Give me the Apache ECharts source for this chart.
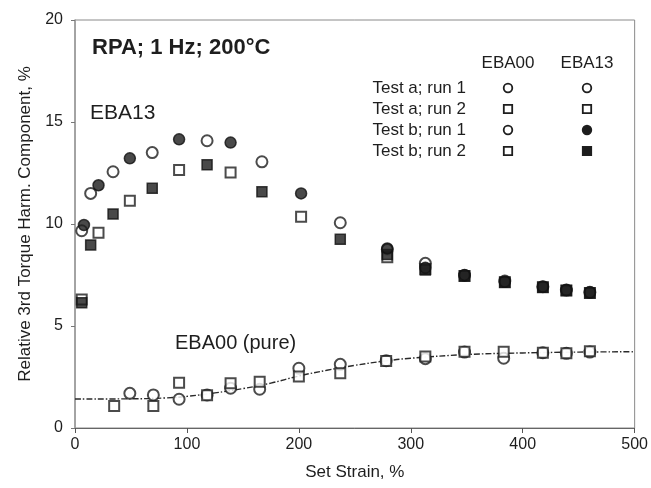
<!DOCTYPE html>
<html><head><meta charset="utf-8">
<script src="https://cdn.jsdelivr.net/npm/echarts@6/dist/echarts.min.js"></script>
<style>html,body{margin:0;padding:0;background:#fff}#c{width:651px;height:488px}</style>
</head><body><div id="c"></div>
<script>
// ---------- data ----------
const xTicks = [0, 100, 200, 300, 400, 500];
const yTicks = [0, 5, 10, 15, 20];
const legendRows = ['Test a; run 1', 'Test a; run 2', 'Test b; run 1', 'Test b; run 2'];
const legendCols = ['EBA00', 'EBA13'];

// EBA13
const eba13_a1_x = [6, 14, 34, 69, 118, 167, 237, 279, 313, 348, 384, 418, 439, 460];
const eba13_a1_y = [9.67, 11.5, 12.56, 13.5, 14.08, 13.05, 10.06, 8.75, 8.07, 7.48, 7.2, 6.93, 6.76, 6.65];
const eba13_a2_x = [6, 21, 49, 93, 139, 202, 279, 313, 348, 384, 418, 439, 460];
const eba13_a2_y = [6.3, 9.57, 11.14, 12.65, 12.52, 10.36, 8.37, 7.8, 7.45, 7.15, 6.9, 6.74, 6.62];
const eba13_b1_x = [8, 21, 49, 93, 139, 202, 279, 313, 348, 384, 418, 439, 460];
const eba13_b1_y = [9.95, 11.9, 13.22, 14.15, 13.99, 11.5, 8.8, 7.85, 7.5, 7.17, 6.93, 6.76, 6.65];
const eba13_b2_x = [6, 14, 34, 69, 118, 167, 237, 279, 313, 348, 384, 418, 439, 460];
const eba13_b2_y = [6.14, 8.97, 10.49, 11.75, 12.9, 11.58, 9.25, 8.5, 7.75, 7.45, 7.15, 6.9, 6.74, 6.62];

// EBA00
const eba00_circ_x = [49, 70, 93, 118, 139, 165, 200, 237, 278, 313, 348, 383, 418, 439, 460];
const eba00_circ_y = [1.7, 1.62, 1.41, 1.62, 1.95, 1.9, 2.93, 3.12, 3.3, 3.4, 3.72, 3.42, 3.69, 3.66, 3.72];
const eba00_sq_x = [35, 70, 93, 118, 139, 165, 200, 237, 278, 313, 348, 383, 418, 439, 460];
const eba00_sq_y = [1.08, 1.08, 2.22, 1.6, 2.19, 2.27, 2.52, 2.68, 3.28, 3.5, 3.74, 3.74, 3.69, 3.66, 3.76];

// fitted curve for EBA00
const fit_x = [0, 50, 80, 100, 125, 150, 175, 200, 225, 250, 275, 300, 350, 400, 450, 500];
const fit_y = [1.42, 1.43, 1.47, 1.55, 1.72, 1.93, 2.2, 2.55, 2.83, 3.07, 3.27, 3.42, 3.6, 3.68, 3.72, 3.74];

const zip = (xs, ys) => xs.map((x, i) => [x, ys[i]]);

// ---------- chart ----------
const FONT = '"Liberation Sans", Arial, sans-serif';
const INK = '#1e1e1e';
const chart = echarts.init(document.getElementById('c'));

const openStyle = {color: '#fff', borderColor: INK, borderWidth: 2};
const fillStyle = {color: '#1c1c1c', borderColor: '#111', borderWidth: 1.5};

function sc(name, xs, ys, symbol, style, z) {
  return {name, type: 'scatter', data: zip(xs, ys), symbol, symbolSize: symbol === 'rect' ? 10 : 11,
    itemStyle: style, z: z || 3, silent: true, animation: false};
}

const legX = [508, 587];
const legY = [88, 109, 130, 151];
const legSym = [
  [['circle', false], ['circle', false]],
  [['rect', false], ['rect', false]],
  [['circle', false], ['circle', true]],
  [['rect', false], ['rect', true]]
];
const graphics = [];
legendCols.forEach((t, i) => graphics.push({type: 'text', x: legX[i], y: 63,
  style: {text: t, font: '17px ' + FONT, fill: INK, align: 'center', verticalAlign: 'middle'}}));
legendRows.forEach((t, r) => {
  graphics.push({type: 'text', x: 466, y: legY[r],
    style: {text: t, font: '17px ' + FONT, fill: INK, align: 'right', verticalAlign: 'middle'}});
  legSym[r].forEach(([s, filled], c) => {
    const st = {fill: filled ? '#1c1c1c' : '#fff', stroke: INK, lineWidth: 1.8};
    if (s === 'circle') graphics.push({type: 'circle', shape: {cx: legX[c], cy: legY[r], r: 4.3}, style: st});
    else graphics.push({type: 'rect', shape: {x: legX[c] - 4.2, y: legY[r] - 4.2, width: 8.4, height: 8.4}, style: st});
  });
});
graphics.push({type: 'text', x: 90, y: 113,
  style: {text: 'EBA13', font: '21px ' + FONT, fill: INK, verticalAlign: 'middle'}});
graphics.push({type: 'text', x: 175, y: 343,
  style: {text: 'EBA00 (pure)', font: '20px ' + FONT, fill: INK, verticalAlign: 'middle'}});

chart.setOption({
  animation: false,
  backgroundColor: '#fff',
  title: {text: 'RPA; 1 Hz; 200°C', left: 87, top: 32,
    textStyle: {fontFamily: FONT, fontSize: 22, fontWeight: 'bold', color: INK}},
  grid: {left: 75, right: 16, top: 20, bottom: 60, show: true, borderColor: '#8a8a8a', borderWidth: 1},
  xAxis: {type: 'value', min: xTicks[0], max: xTicks[xTicks.length - 1], interval: 100,
    name: 'Set Strain, %', nameLocation: 'middle', nameGap: 36,
    nameTextStyle: {fontFamily: FONT, fontSize: 17, color: INK},
    axisLine: {lineStyle: {color: '#666', width: 1}},
    axisTick: {show: true, length: 5, lineStyle: {color: '#555'}},
    axisLabel: {fontFamily: FONT, fontSize: 16, color: INK, margin: 9},
    splitLine: {show: false}},
  yAxis: {type: 'value', min: yTicks[0], max: yTicks[yTicks.length - 1], interval: 5,
    name: 'Relative 3rd Torque Harm. Component, %', nameLocation: 'middle', nameGap: 40,
    nameTextStyle: {fontFamily: FONT, fontSize: 17, color: INK},
    axisLine: {show: true, lineStyle: {color: '#999', width: 1.5}},
    axisTick: {show: true, length: 4, lineStyle: {color: '#777'}},
    axisLabel: {fontFamily: FONT, fontSize: 16, color: INK, margin: 12},
    splitLine: {show: false}},
  graphic: graphics,
  series: [
    {name: 'fit', type: 'line', data: zip(fit_x, fit_y), smooth: 0.4, symbol: 'none', silent: true,
      lineStyle: {color: '#2a2a2a', width: 1.4, type: [6, 2, 1.5, 2]}, z: 2},
    sc('EBA00 a1', eba00_circ_x, eba00_circ_y, 'circle', openStyle),
    sc('EBA00 a2', eba00_sq_x, eba00_sq_y, 'rect', openStyle),
    sc('EBA13 a1', eba13_a1_x, eba13_a1_y, 'circle', openStyle),
    sc('EBA13 a2', eba13_a2_x, eba13_a2_y, 'rect', openStyle),
    sc('EBA13 b2', eba13_b2_x, eba13_b2_y, 'rect', fillStyle, 4),
    sc('EBA13 b1', eba13_b1_x, eba13_b1_y, 'circle', fillStyle, 4)
  ]
});
</script></body></html>
